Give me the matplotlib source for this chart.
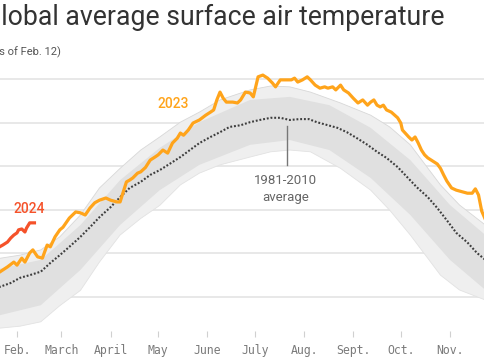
import matplotlib
matplotlib.use("Agg")
import matplotlib.pyplot as plt
import numpy as np

# ---------------- data (day of year, °C) ----------------
months = ["Jan.", "Feb.", "March", "April", "May", "June", "July",
          "Aug.", "Sept.", "Oct.", "Nov.", "Dec."]
month_start_doy = [1, 32, 60, 91, 121, 152, 182, 213, 244, 274, 305, 335]

y2023_doy = [20, 21, 26, 30, 32, 35, 37, 40, 42, 45, 48, 51, 53, 56, 59, 61, 65, 69, 72, 75, 78, 81, 84,
             88, 91, 95, 97, 99, 101, 103, 105, 108, 110, 113, 116, 119, 121, 124, 127, 130, 133,
             135, 137, 140, 143, 147, 151, 154, 156, 158, 160, 162, 164, 168, 171, 173, 176, 179,
             181, 184, 187, 190, 193, 195, 198, 202, 205, 207, 209, 212, 215, 217, 220, 223, 226,
             228, 231, 233, 236, 238, 241, 244, 247, 250, 253, 255, 257, 259, 261, 263, 265, 268,
             272, 274, 275, 279, 281, 283, 285, 287, 289, 291, 294, 297, 299, 301, 303, 306, 309,
             313, 316, 319, 321, 323, 325, 328]
y2023_temp = [12.55, 12.57, 12.69, 12.80, 12.73, 12.89, 12.80, 13.01, 13.08, 12.92, 12.89, 13.19, 13.15,
              13.38, 13.54, 13.60, 13.81, 13.95, 13.93, 13.88, 14.04, 14.16, 14.22, 14.27, 14.22,
              14.18, 14.18, 14.41, 14.64, 14.68, 14.73, 14.84, 14.87, 14.97, 15.14, 15.21, 15.26,
              15.37, 15.30, 15.53, 15.64, 15.76, 15.71, 15.83, 15.99, 16.06, 16.17, 16.24, 16.29,
              16.52, 16.70, 16.56, 16.47, 16.47, 16.45, 16.52, 16.70, 16.68, 16.59, 17.05, 17.09,
              17.02, 16.91, 16.82, 16.98, 16.98, 16.98, 17.02, 16.93, 16.98, 17.05, 16.98, 16.86,
              16.79, 16.82, 16.79, 16.82, 16.75, 16.86, 16.75, 16.68, 16.56, 16.45, 16.52, 16.40,
              16.47, 16.52, 16.40, 16.36, 16.40, 16.29, 16.24, 16.11, 15.99, 15.83, 15.67, 15.60,
              15.67, 15.53, 15.37, 15.26, 15.19, 15.12, 15.05, 14.95, 14.80, 14.66, 14.50, 14.45,
              14.41, 14.38, 14.38, 14.48, 14.34, 13.97, 13.72]

y2024_doy = [20, 21, 23, 26, 28, 30, 32, 33, 35, 37, 38, 40, 42, 43]
y2024_temp = [13.12, 13.15, 13.19, 13.26, 13.35, 13.42, 13.47, 13.54, 13.56, 13.49, 13.58, 13.70,
              13.70, 13.70]

avg_doy = [20, 21, 28, 34, 40, 47, 53, 59, 65, 72, 78, 84, 91, 97, 103, 110, 116, 122, 129, 135, 141,
           147, 154, 160, 166, 173, 179, 185, 192, 198, 204, 210, 216, 221, 228, 234, 240, 246, 253,
           259, 265, 272, 278, 284, 291, 297, 303, 309, 316, 322, 328]
avg_temp = [12.21, 12.23, 12.32, 12.44, 12.50, 12.58, 12.78, 12.96, 13.15, 13.38, 13.60, 13.83, 14.06,
            14.29, 14.50, 14.64, 14.80, 14.91, 15.07, 15.21, 15.37, 15.53, 15.67, 15.78, 15.90,
            15.94, 16.01, 16.06, 16.11, 16.11, 16.06, 16.08, 16.08, 16.01, 15.94, 15.88, 15.78,
            15.65, 15.49, 15.33, 15.19, 14.98, 14.75, 14.52, 14.29, 14.04, 13.76, 13.47, 13.25,
            13.01, 12.83]

# range of all 1979-2022 years (envelope) and dense core of that range
env_doy = [20, 34, 47, 59, 72, 84, 97, 110, 122, 135, 147, 160, 179, 192, 204, 217, 236, 255, 267,
           280, 299, 311, 328]
env_hi = [12.88, 12.96, 13.08, 13.38, 13.88, 14.50, 14.95, 15.37, 15.67, 16.01, 16.24, 16.52, 16.75,
          16.84, 16.82, 16.70, 16.45, 16.17, 15.90, 15.49, 14.57, 14.11, 13.63]
env_lo = [11.28, 11.33, 11.43, 11.80, 12.15, 12.80, 13.42, 13.80, 14.10, 14.57, 14.84, 15.03, 15.21,
          15.33, 15.37, 15.33, 14.95, 14.45, 13.99, 13.42, 12.50, 12.16, 11.92]
core_doy = [20, 47, 72, 97, 122, 147, 179, 204, 229, 255, 280, 305, 328]
core_hi = [12.64, 12.85, 13.65, 14.68, 15.42, 16.01, 16.52, 16.59, 16.40, 15.88, 15.14, 14.11, 13.40]
core_lo = [11.57, 11.81, 12.62, 13.65, 14.45, 15.03, 15.49, 15.60, 15.37, 14.73, 13.88, 12.85, 12.14]

grid_temps = [12, 13, 14, 15, 16, 17]

# ---------------- figure ----------------
W, H, DPI = 485, 360, 100
fig = plt.figure(figsize=(W / DPI, H / DPI), dpi=DPI, facecolor="white")

# the chart is a crop of a wider one: axes run past both figure edges
px_per_day = 1.586
doy_at_px0 = 21.28
ax_left_px, ax_right_px = -40, 525
ax_top_px, ax_bot_px = 60, 331
ax = fig.add_axes([ax_left_px / W, (H - ax_bot_px) / H,
                   (ax_right_px - ax_left_px) / W, (ax_bot_px - ax_top_px) / H])
ax.set_facecolor("none")
for s in ax.spines.values():
    s.set_visible(False)

ax.set_yticks(grid_temps)
ax.set_yticklabels([])
ax.tick_params(axis="y", length=0)
ax.grid(axis="y", color="#e6e6e6", lw=1.3, zorder=0)
ax.set_axisbelow(True)

ax.set_xticks(month_start_doy)
ax.set_xticklabels(months, family=["DejaVu Sans Mono"], fontsize=8.3, color="#7a7a7a")
ax.tick_params(axis="x", length=4.6, width=0.8, color="#d0d0d0", pad=5)

# historic years bundle
ax.fill_between(env_doy, env_lo, env_hi, color="#efefef", lw=0, zorder=1)
ax.fill_between(core_doy, core_lo, core_hi, color="#e0e0e0", lw=0, zorder=1)
ax.plot(env_doy, env_hi, color="#d8d8d8", lw=0.6, zorder=1)
ax.plot(env_doy, env_lo, color="#e2e2e2", lw=0.6, zorder=1)

# average dotted
ax.plot(avg_doy, avg_temp, color="#3d3d3d", lw=1.5, ls=(0, (0.9, 0.9)), zorder=3)
ax.plot([202.2, 202.2], [15.03, 15.92], color="#777777", lw=1.0, zorder=3)
ax.text(201.3, 14.48, "1981-2010\naverage", ha="center", va="center", color="#666666",
        fontsize=9.5, family=["Roboto", "DejaVu Sans"], linespacing=1.35, zorder=4)

# 2023 and 2024
ax.plot(y2023_doy, y2023_temp, color="#FFA41B", lw=2.3, solid_joinstyle="round", zorder=4)
ax.plot(y2024_doy, y2024_temp, color="#F5522A", lw=2.3, solid_joinstyle="round", zorder=5)
ax.text(130.4, 16.43, "2023", ha="center", va="center", color="#FFA41B", fontsize=10,
        family=["Roboto", "DejaVu Sans"], fontweight="medium", zorder=5)
ax.text(39.6, 14.02, "2024", ha="center", va="center", color="#F5522A", fontsize=10,
        family=["Roboto", "DejaVu Sans"], fontweight="medium", zorder=5)

# limits last: set_xticks would otherwise widen the view
ax.set_xlim(doy_at_px0 + ax_left_px / px_per_day, doy_at_px0 + ax_right_px / px_per_day)
ax.set_ylim(11.219, 17.436)

# ---------------- titles (cropped at left like the reference) ----------------
renderer = fig.canvas.get_renderer()


def text_width(s, **kw):
    t = fig.text(0, 0, s, **kw)
    w = t.get_window_extent(renderer).width
    t.remove()
    return w


title_kw = dict(fontsize=19.2, family=["Roboto", "DejaVu Sans"], color="#333333")
title = "Global average surface air temperature"
wG = text_width(title, **title_kw) - text_width(title[1:], **title_kw)
fig.text((1.0 - wG) / W, (H - 25) / H, title, ha="left", va="baseline", **title_kw)

sub_kw = dict(fontsize=8, family=["Roboto", "DejaVu Sans"], color="#555555")
sub = "(As of Feb. 12)"
wA = text_width(sub, **sub_kw) - text_width(sub[2:], **sub_kw)
fig.text((-0.5 - wA) / W, (H - 55) / H, sub, ha="left", va="baseline", **sub_kw)

fig.savefig("out.png", dpi=DPI, facecolor="white")
